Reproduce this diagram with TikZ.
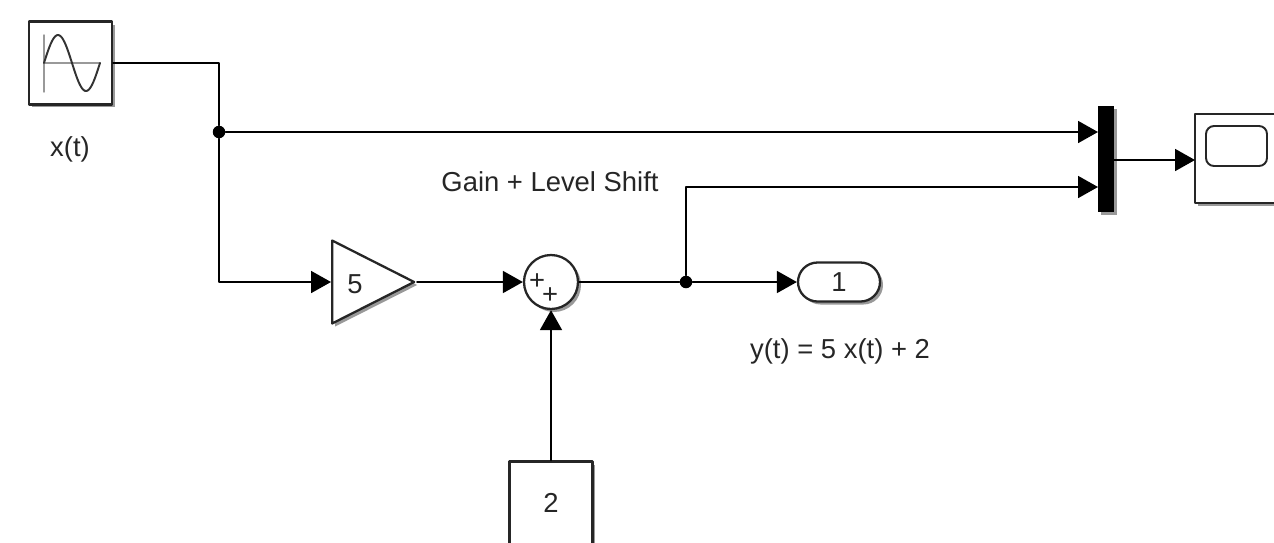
\documentclass[tikz,border=0pt]{standalone}
\usepackage{fontspec}
\setmainfont{Liberation Sans}
\usetikzlibrary{arrows.meta,shapes.geometric,shapes.misc,shadows}
\tikzset{
	softshadow/.style={drop shadow={shadow xshift=0.06cm,shadow yshift=-0.06cm,opacity=0.4,fill=black}},
	blockbox/.style={draw=black!85,line width=1.3pt,fill=white,inner sep=0pt,softshadow,minimum width=1.66cm,minimum height=1.66cm,text=black!85,font=\fontsize{15.6}{18}\selectfont},
	gainbox/.style={blockbox,isosceles triangle,isosceles triangle stretches=true,minimum width=1.66cm,minimum height=1.64cm,shape border rotate=0},
	sumbox/.style={blockbox,circle,minimum width=1.08cm,minimum height=1.08cm},
	outbox/.style={blockbox,rounded rectangle,minimum width=1.64cm,minimum height=0.78cm},
	scopebox/.style={blockbox,minimum width=1.66cm,minimum height=1.78cm},
	muxbar/.style={fill=black,inner sep=0pt,softshadow,minimum width=0.32cm,minimum height=2.12cm},
	dotnode/.style={circle,fill=black,inner sep=0pt,minimum size=0.25cm},
	plainlabel/.style={inner sep=0pt,text=black!85,font=\fontsize{15.6}{18}\selectfont},
	signal/.style={draw=black,line width=1pt,-{Triangle[length=0.4cm,width=0.44cm]}},
	wire/.style={draw=black,line width=1pt},
}
\begin{document}
\begin{tikzpicture}[line cap=round,line join=round,x=0.02cm,y=-0.02cm]
	\clip (0,0) rectangle (1274,542);
	% blocks
	\node[blockbox] (sine) at (70.5,63) {};
	\node[gainbox,anchor=lower side] (gain) at (331,282) {};
	\node[sumbox] (sum) at (551,282) {};
	\node[blockbox] (const) at (551,503) {2};
	\node[outbox] (out) at (839,282) {1};
	\node[muxbar] (mux) at (1106,159) {};
	\node[scopebox] (scope) at (1236.5,158.5) {};
	\node[draw=black!85,line width=1.1pt,rounded corners=0.16cm,inner sep=0pt,minimum width=1.22cm,minimum height=0.8cm] (screen) at (1236.5,146) {};
	% sine icon
	\draw[black!40,line width=0.8pt] (44,35)-- (44,92);
	\draw[black!40,line width=0.8pt] (44,63)-- (100,63);
	\draw[black!80,line width=1.1pt,domain=0:360,samples=50] plot ({44+\x/360*56},{63-28*sin(\x)});
	% labels
	\node[plainlabel] (xlabel) at (70,149) {x(t)};
	\node[plainlabel] (gainlabel) at (355,284) {5};
	\node[plainlabel] (plusa) at (537,282) {+};
	\node[plainlabel] (plusb) at (550,296) {+};
	\node[plainlabel] (titlelabel) at (550,182) {Gain + Level Shift};
	\node[plainlabel] (ylabel) at (840,351) {y(t) = 5 x(t) + 2};
	% branch points
	\node[dotnode] (splitx) at (219,132) {};
	\node[dotnode] (splity) at (686,282) {};
	\coordinate (muxa) at (1098,132);
	\coordinate (muxb) at (1098,187);
	\coordinate (scopein) at (1195,160);
	\coordinate (muxout) at (1114,160);
	% connectors
	\draw[wire] (sine.east) -| (splitx);
	\draw[signal] (splitx) |- (gain.lower side);
	\draw[signal] (splitx) -- (muxa);
	\draw[signal] (gain.apex) -- (sum.west);
	\draw[signal] (const.north) -- (sum.south);
	\draw[wire] (sum.east) -- (splity);
	\draw[signal] (splity) -- (out.west);
	\draw[signal] (splity) |- (muxb);
	\draw[signal] (muxout) -- (scopein);
\end{tikzpicture}
\end{document}
